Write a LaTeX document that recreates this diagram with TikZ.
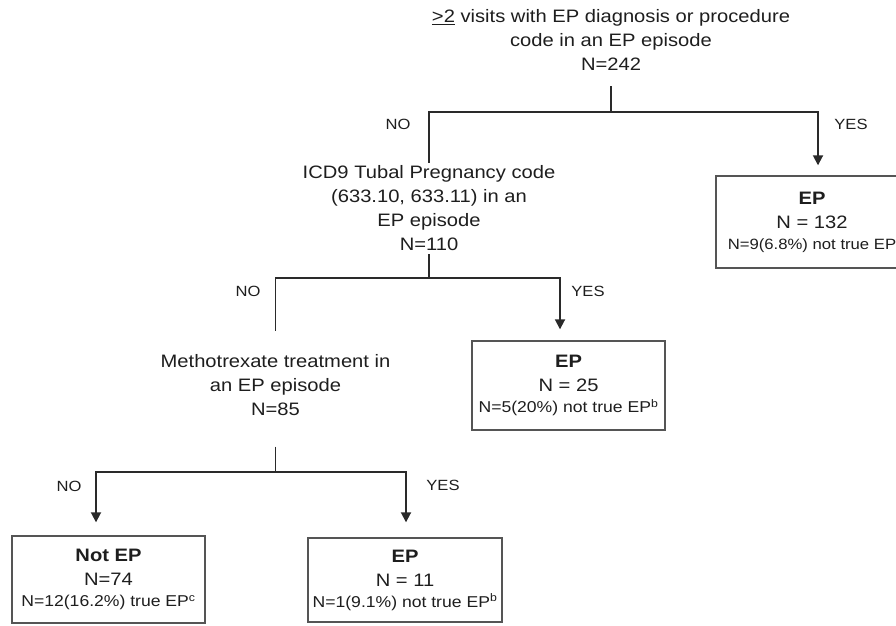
\documentclass[tikz,border=0pt]{standalone}
\usepackage{fontspec}
\setmainfont[FakeStretch=1.12]{Liberation Sans}
\usetikzlibrary{arrows.meta}
\definecolor{txt}{HTML}{1E1E1E}
\definecolor{linec}{HTML}{2A2A2A}
\definecolor{boxc}{HTML}{555555}
\newcommand\smline[1]{{\fontsize{15.7}{24}\selectfont #1}}
\newcommand\smlineb[1]{{\fontsize{14.9}{24}\selectfont #1}}
\tikzset{
  qtext/.style={align=center, inner sep=0pt, font=\fontsize{18}{24}\selectfont, text=txt},
  result/.style={draw=boxc, line width=1.4pt, align=center, inner sep=0pt,
    font=\fontsize{18}{24}\selectfont, text=txt, minimum width=193pt},
  lab/.style={font=\fontsize{14.8}{18}\selectfont, inner sep=0pt, text=txt},
  lin/.style={draw=linec, line width=1.8pt},
  arr/.style={lin, -{Triangle[length=10pt,width=10pt]}},
}
\begin{document}
\begin{tikzpicture}[x=1pt,y=-1pt]
\useasboundingbox (0,0) rectangle (896,625);
\clip (0,0) rectangle (896,625);
\fill[white] (0,0) rectangle (896,625);

% question nodes
\node[qtext] (q1) at (611,40.4) {\underline{>2} visits with EP diagnosis or procedure\\ code in an EP episode\\ N=242};
\node[qtext] (q2) at (429,208.4) {ICD9 Tubal Pregnancy code\\ (633.10, 633.11) in an\\ EP episode\\ N=110};
\node[qtext] (q3) at (275.5,384.9) {Methotrexate treatment in\\ an EP episode\\ N=85};

% result boxes
\node[result, minimum width=192pt, minimum height=92pt] (b132) at (812,222)
  {\textbf{EP}\\ N = 132\\[-3pt] \smlineb{N=9(6.8\%) not true EP}};
\node[result, minimum height=89pt] (b25) at (568.5,385.5)
  {\textbf{EP}\\ N = 25\\[-3pt] \smline{N=5(20\%) not true EP\textsuperscript{b}}};
\node[result, minimum height=87pt] (bnot) at (108.5,579.5)
  {\textbf{Not EP}\\ N=74\\[-3pt] \smline{N=12(16.2\%) true EP\textsuperscript{c}}};
\node[result, minimum width=194pt, minimum height=84pt] (b11) at (405,580)
  {\textbf{EP}\\ N = 11\\[-3pt] \smline{N=1(9.1\%) not true EP\textsuperscript{b}}};

% junctions
\coordinate (j1) at (611,112);
\coordinate (j2) at (429,278);
\coordinate (j3) at (275.5,472);

% connectors
\draw[lin] ([yshift=-15pt]q1.south) -- (j1);
\draw[lin] (j1) -| ([yshift=2.8pt]q2.north);
\draw[arr, shorten >=10pt] (j1) -| ([xshift=6pt]b132.north);

\draw[lin] ([yshift=-3pt]q2.south) -- (j2);
\draw[lin] (j2) -| ([yshift=22.8pt]q3.north);
\draw[arr, shorten >=11pt] (j2) -| ([xshift=-8.5pt]b25.north);

\draw[lin] ([yshift=-31pt]q3.south) -- (j3);
\draw[arr, shorten >=13pt] (j3) -| ([xshift=-12.5pt]bnot.north);
\draw[arr, shorten >=15pt] (j3) -| ([xshift=1pt]b11.north);

% branch labels
\node[lab] (no1) at (398,124) {NO};
\node[lab] (yes1) at (851,124) {YES};
\node[lab] (no2) at (248,291) {NO};
\node[lab] (yes2) at (588,291) {YES};
\node[lab] (no3) at (69,486) {NO};
\node[lab] (yes3) at (443,485) {YES};
\end{tikzpicture}
\end{document}
